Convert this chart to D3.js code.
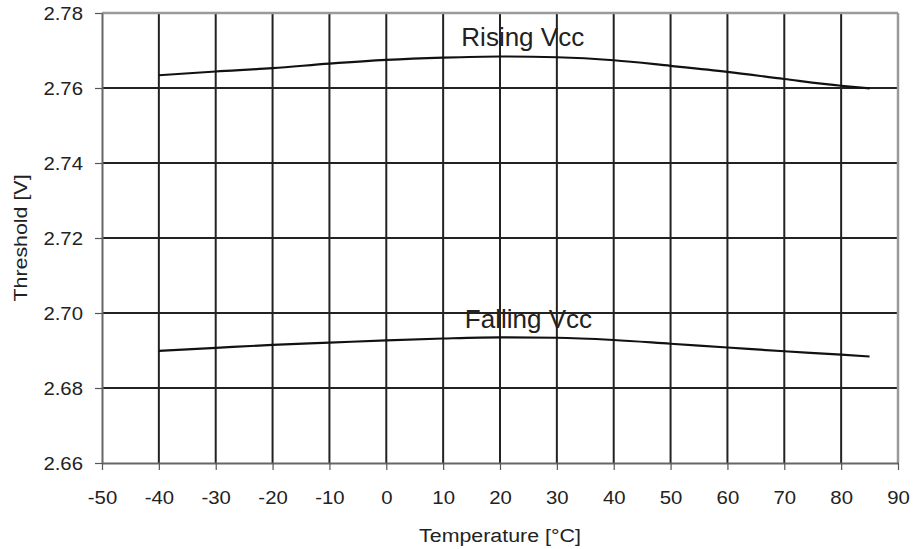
<!DOCTYPE html>
<html>
<head>
<meta charset="utf-8">
<script src="https://cdn.jsdelivr.net/npm/d3@7"></script>
<style>
  html, body { margin: 0; padding: 0; background: #fff; }
  svg { display: block; }
  text { font-family: "Liberation Sans", Arial, Helvetica, sans-serif; fill: #222; }
</style>
</head>
<body>
<svg id="chart" width="915" height="549"></svg>
<script>
// ---- data ----
const temps = [-40, -30, -20, -10, 0, 10, 20, 30, 40, 50, 60, 70, 80, 85];
const risingVcc = [2.7634, 2.7644, 2.7653, 2.7665, 2.7675, 2.7681, 2.7684, 2.7682, 2.7674, 2.7659, 2.7643, 2.7624, 2.7606, 2.7599];
const fallingVcc = [2.6899, 2.6907, 2.6915, 2.6921, 2.6927, 2.6932, 2.6935, 2.6934, 2.6928, 2.6918, 2.6908, 2.6898, 2.6889, 2.6884];
const xTicks = [-50, -40, -30, -20, -10, 0, 10, 20, 30, 40, 50, 60, 70, 80, 90];
const yTicks = [2.66, 2.68, 2.70, 2.72, 2.74, 2.76, 2.78];
const seriesLabels = [
  { name: "Rising Vcc", t: 24, v: 2.7713 },
  { name: "Falling Vcc", t: 25, v: 2.6961 }
];
const xTitle = "Temperature [°C]";
const yTitle = "Threshold [V]";

// ---- layout ----
const W = 915, H = 549;
const m = { top: 13, right: 17, bottom: 86, left: 102 };
const iw = W - m.left - m.right, ih = H - m.top - m.bottom;
const SX = 1.15; // horizontal text stretch seen in the reference

const svg = d3.select("#chart");
const g = svg.append("g").attr("transform", `translate(${m.left},${m.top})`);

const x = d3.scaleLinear().domain([-50, 90]).range([0, iw]);
const y = d3.scaleLinear().domain([2.66, 2.78]).range([ih, 0]);

// grid (inner lines dark)
g.append("g").selectAll("line")
  .data(xTicks.slice(1, -1)).join("line")
  .attr("x1", d => x(d)).attr("x2", d => x(d))
  .attr("y1", 0).attr("y2", ih)
  .attr("stroke", "#222").attr("stroke-width", 2);
g.append("g").selectAll("line")
  .data(yTicks.slice(1, -1)).join("line")
  .attr("y1", d => y(d)).attr("y2", d => y(d))
  .attr("x1", 0).attr("x2", iw)
  .attr("stroke", "#222").attr("stroke-width", 2);

// top and right border (gray)
g.append("line").attr("x1", 0).attr("x2", iw).attr("y1", 0).attr("y2", 0)
  .attr("stroke", "#9a9a9a").attr("stroke-width", 2.5);
g.append("line").attr("x1", iw).attr("x2", iw).attr("y1", 0).attr("y2", ih)
  .attr("stroke", "#9a9a9a").attr("stroke-width", 2.5);

// axes
const xAxis = g.append("g").attr("transform", `translate(0,${ih})`)
  .call(d3.axisBottom(x).tickValues(xTicks).tickFormat(d => String(d)).tickSizeInner(7).tickSizeOuter(0));
const yAxis = g.append("g")
  .call(d3.axisLeft(y).tickValues(yTicks).tickFormat(d => d.toFixed(2)).tickSizeInner(7).tickSizeOuter(0));

[xAxis, yAxis].forEach(a => {
  a.select(".domain").attr("stroke", "#666").attr("stroke-width", 2);
  a.selectAll(".tick line").attr("stroke", "#555").attr("stroke-width", 1.2);
  a.selectAll(".tick text").attr("fill", "#222").style("font-size", "17.7px")
    .style("font-family", '"Liberation Sans", Arial, sans-serif');
});
xAxis.selectAll(".tick text").attr("y", 41).attr("dy", 0)
  .attr("transform", `scale(${SX},1)`);
yAxis.selectAll(".tick text").attr("x", -19 / SX).attr("dy", "0.35em")
  .attr("transform", `scale(${SX},1)`);

// curves
const line = d3.line().x((d, i) => x(temps[i])).y(d => y(d)).curve(d3.curveMonotoneX);
[risingVcc, fallingVcc].forEach(s => {
  g.append("path").datum(s).attr("d", line)
    .attr("fill", "none").attr("stroke", "#111").attr("stroke-width", 2.2);
});

// series labels
g.selectAll(".slabel").data(seriesLabels).join("text")
  .attr("class", "slabel")
  .attr("x", d => x(d.t)).attr("y", d => y(d.v))
  .attr("text-anchor", "middle")
  .attr("fill", "#222")
  .style("font-size", "26px")
  .text(d => d.name);

// axis titles
svg.append("text")
  .attr("transform", `translate(${m.left + iw / 2},${541.5}) scale(${SX},1)`)
  .attr("text-anchor", "middle").attr("fill", "#222").style("font-size", "18.6px")
  .text(xTitle);
svg.append("text")
  .attr("transform", `translate(26.5,${m.top + ih / 2}) rotate(-90) scale(${SX},1)`)
  .attr("text-anchor", "middle").attr("fill", "#222").style("font-size", "18.6px")
  .text(yTitle);
</script>
</body>
</html>
